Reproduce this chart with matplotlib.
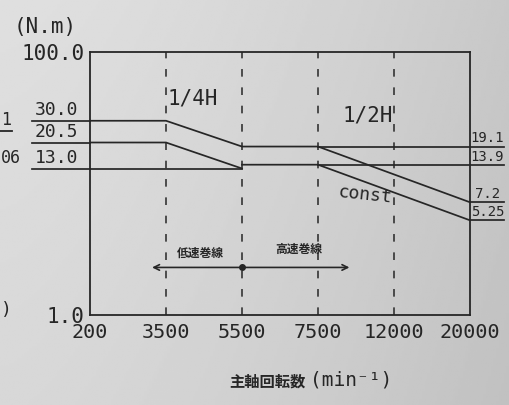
"""
主軸出力トルク特性 (低速巻線 / 高速巻線) の再現
"""

import numpy as np
import matplotlib.pyplot as plt

# 横軸の目盛り (等間隔で表示)
speed_ticks = [200, 3500, 5500, 7500, 12000, 20000]

# 1/4H 定格
quarter_speed = [200, 3500, 5500, 7500, 20000]
quarter_torque = [30.0, 30.0, 19.1, 19.1, 7.2]

# 低速巻線 中間の線
mid_speed = [200, 3500, 5500]
mid_torque = [20.5, 20.5, 13.0]

# 連続定格 (低速巻線)
const_speed = [200, 5500]
const_torque = [13.0, 13.0]

# 高速巻線 連続定格
high_speed = [5500, 7500, 20000]
high_torque = [13.9, 13.9, 5.25]

left_values = [30.0, 20.5, 13.0]
right_values = [19.1, 13.9, 7.2, 5.25]

INK = '#262626'
MONO = 'DejaVu Sans Mono'
JP = ['Noto Sans CJK JP', 'DejaVu Sans']


def idx(speeds):
    return [speed_ticks.index(s) for s in speeds]


fig = plt.figure(figsize=(5.1, 4.05), dpi=100)

# 写真っぽい灰色のグラデーション背景
bg = fig.add_axes([0, 0, 1, 1], zorder=-10)
gx, gy = np.meshgrid(np.linspace(0, 1, 200), np.linspace(0, 1, 160))
shade = 0.875 - 0.09 * gx ** 1.5 - 0.03 * gy
bg.imshow(shade, cmap='gray', vmin=0, vmax=1, aspect='auto', extent=[0, 1, 0, 1])
bg.axis('off')

ax = fig.add_axes([0.1765, 1 - 315 / 405, 0.745, 263 / 405])
ax.patch.set_alpha(0)
ax.set_yscale('log')
ax.set_ylim(1, 100)
ax.set_xlim(0, len(speed_ticks) - 1)

for s in ax.spines.values():
    s.set_color(INK)
    s.set_linewidth(1.3)

# 縦の破線
for s in speed_ticks[1:-1]:
    ax.axvline(speed_ticks.index(s), color=INK, lw=1.1, ls=(0, (5, 7)))

line_kw = dict(color=INK, lw=1.25, solid_joinstyle='miter')
ax.plot(idx(quarter_speed), quarter_torque, **line_kw)
ax.plot(idx(mid_speed), mid_torque, **line_kw)
ax.plot(idx(const_speed), const_torque, **line_kw)
ax.plot(idx(high_speed), high_torque, **line_kw)

# 左の値ラベル (下線つき)
for v in left_values:
    ax.plot([-0.76, 0], [v, v], clip_on=False, **line_kw)
    ax.text(-0.44, v * 1.03, f'{v:.1f}', ha='center', va='bottom',
            fontsize=13, family=MONO, color=INK)

# 右の値ラベル
last = len(speed_ticks) - 1
ax.plot([3, last + 0.45], [19.1, 19.1], clip_on=False, **line_kw)
ax.plot([3, last + 0.45], [13.9, 13.9], clip_on=False, **line_kw)
ax.plot([last, last + 0.45], [7.2, 7.2], clip_on=False, **line_kw)
ax.plot([last, last + 0.45], [5.25, 5.25], clip_on=False, **line_kw)
for v in right_values:
    ax.text(last + 0.23, v * 1.02, f'{v:g}', ha='center', va='bottom',
            fontsize=10, family=MONO, color=INK)

ax.text(1.35, 44, '1/4H', ha='center', va='center', fontsize=15, family=MONO, color=INK)
ax.text(3.65, 33, '1/2H', ha='center', va='center', fontsize=15, family=MONO, color=INK)
ax.text(3.62, 8.2, 'const', ha='center', va='center', fontsize=13, family=MONO,
        color=INK, rotation=-6)

# 巻線切替の矢印
arrow_y = 2.3
ax.annotate('', xy=(0.78, arrow_y), xytext=(2, arrow_y),
            arrowprops=dict(arrowstyle='->', color=INK, lw=1.2))
ax.annotate('', xy=(3.45, arrow_y), xytext=(2, arrow_y),
            arrowprops=dict(arrowstyle='->', color=INK, lw=1.2))
ax.plot(2, arrow_y, 'o', ms=4, color=INK)
ax.text(1.45, 2.95, '低速巻線', ha='center', va='center', fontsize=8.5,
        family=JP, weight='bold', color=INK)
ax.text(2.75, 3.15, '高速巻線', ha='center', va='center', fontsize=8.5,
        family=JP, weight='bold', color=INK)

ax.set_xticks(range(len(speed_ticks)), [str(s) for s in speed_ticks])
ax.set_yticks([1, 100], ['1.0', '100.0'])
ax.minorticks_off()
ax.tick_params(length=0, colors=INK)
ax.tick_params(axis='x', pad=6, labelsize=14.5)
ax.tick_params(axis='y', pad=4, labelsize=15)
for lab in ax.get_xticklabels() + ax.get_yticklabels():
    lab.set_family(MONO)

fig.text(45 / 510, 1 - 27 / 405, '(N.m)', ha='center', va='center',
         fontsize=15, family=MONO, color=INK)

# 横軸タイトル
fig.text(306 / 510, 1 - 382 / 405, '主軸回転数', ha='right', va='center',
         fontsize=11, family=JP, weight='bold', color=INK)
fig.text(310 / 510, 1 - 380 / 405, '(min⁻¹)', ha='left', va='center',
         fontsize=14, family=MONO, color=INK)

# 左端の隣の記載 (写真では切れている)
fig.text(1 / 510, 1 - 120 / 405, '1', ha='left', va='center', fontsize=12,
         family=MONO, color=INK)
fig.add_artist(plt.Line2D([0, 12 / 510], [1 - 131 / 405] * 2, color=INK, lw=1.3))
fig.text(1 / 510, 1 - 158 / 405, '06', ha='left', va='center', fontsize=12,
         family=MONO, color=INK)
fig.text(1 / 510, 1 - 310 / 405, ')', ha='left', va='center', fontsize=13,
         family=MONO, color=INK)

fig.savefig('out.png', dpi=100)
